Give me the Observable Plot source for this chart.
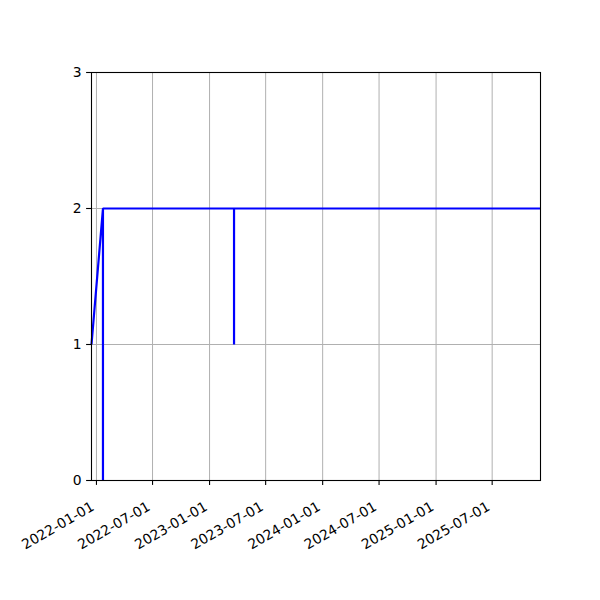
<!DOCTYPE html>
<html>
<head>
<meta charset="utf-8">
<script src="https://cdn.jsdelivr.net/npm/d3@7"></script>
<script src="https://cdn.jsdelivr.net/npm/@observablehq/plot@0.6"></script>
<style>
  html, body { margin: 0; padding: 0; background: #fff; }
  #chart svg { display: block; }
</style>
</head>
<body>
<div id="chart"></div>
<script>
// Data
const dates = ["2021-12-16", "2022-01-22", "2022-01-22", "2022-01-22", "2023-03-21", "2023-03-21", "2023-03-21", "2025-12-04"];
const values = [1, 2, 0, 2, 2, 1, 2, 2];
const xTicks = ["2022-01-01", "2022-07-01", "2023-01-01", "2023-07-01", "2024-01-01", "2024-07-01", "2025-01-01", "2025-07-01"];
const yTicks = [0, 1, 2, 3];
const xDomain = ["2021-12-16", "2025-12-04"];

const parse = d3.utcParse("%Y-%m-%d");
const fmt = d3.utcFormat("%Y-%m-%d");
const data = dates.map((d, i) => ({date: parse(d), value: values[i]}));
const xt = xTicks.map(parse);

const chart = Plot.plot({
  width: 600,
  height: 600,
  marginLeft: 91,
  marginRight: 60,
  marginTop: 72,
  marginBottom: 120,
  style: {fontFamily: "DejaVu Sans", fontSize: "13.9px", color: "black", background: "white"},
  x: {type: "utc", domain: xDomain.map(parse)},
  y: {domain: [0, 3]},
  marks: [
    Plot.gridX(xt, {stroke: "#b0b0b0", strokeOpacity: 1, strokeWidth: 1}),
    Plot.gridY(yTicks, {stroke: "#b0b0b0", strokeOpacity: 1, strokeWidth: 1}),
    Plot.line(data, {x: "date", y: "value", stroke: "blue", strokeWidth: 2.2, strokeLinejoin: "miter", strokeLinecap: "butt"}),
    Plot.frame({stroke: "black", strokeWidth: 1.1}),
    Plot.axisY(yTicks, {tickSize: 4.9, tickPadding: 4.9, tickFormat: d => String(d), label: null, strokeWidth: 1.1}),
    Plot.axisX(xt, {tickSize: 4.9, text: null, label: null, strokeWidth: 1.1}),
    Plot.text(xt, {x: d => d, text: d => fmt(d), frameAnchor: "bottom", dx: -3.5, dy: 25, rotate: -30, textAnchor: "end", lineAnchor: "middle", fill: "black"})
  ]
});
document.getElementById("chart").appendChild(chart);
</script>
</body>
</html>
